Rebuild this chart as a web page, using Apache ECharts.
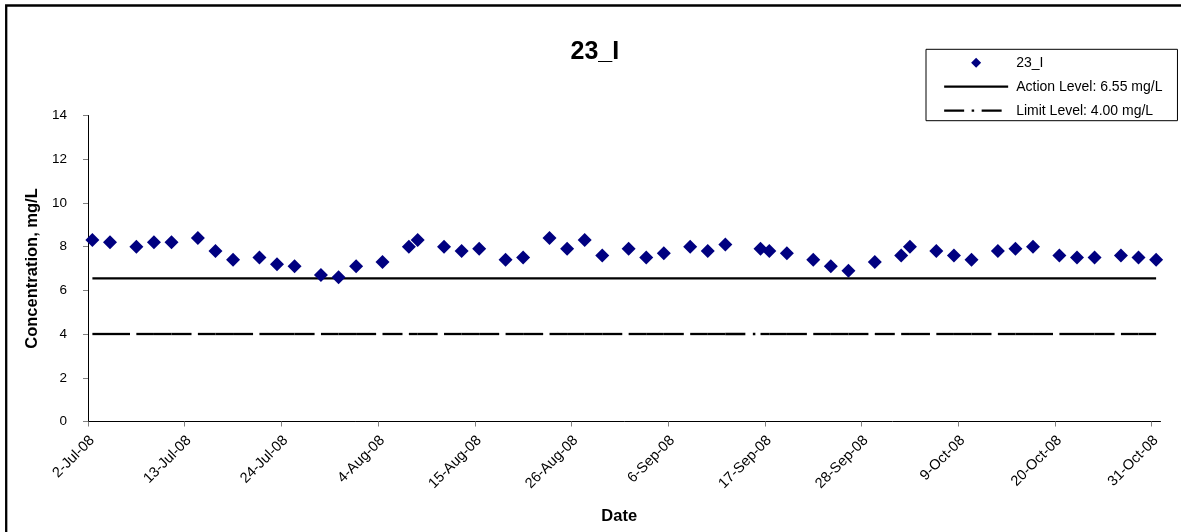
<!DOCTYPE html>
<html>
<head>
<meta charset="utf-8">
<script src="https://cdn.jsdelivr.net/npm/echarts@6/dist/echarts.min.js"></script>
<style>
html,body{margin:0;padding:0;background:#fff;}
#chart{width:1181px;height:532px;}
</style>
</head>
<body>
<div id="chart"></div>
<script>
// ---- data ----
const seriesName = '23_I';
const sampleDates = [
  '2008-07-02','2008-07-04','2008-07-07','2008-07-09','2008-07-11','2008-07-14','2008-07-16','2008-07-18',
  '2008-07-21','2008-07-23','2008-07-25','2008-07-28','2008-07-30','2008-08-01','2008-08-04','2008-08-07',
  '2008-08-08','2008-08-11','2008-08-13','2008-08-15','2008-08-18','2008-08-20','2008-08-23','2008-08-25',
  '2008-08-27','2008-08-29','2008-09-01','2008-09-03','2008-09-05','2008-09-08','2008-09-10','2008-09-12',
  '2008-09-16','2008-09-17','2008-09-19','2008-09-22','2008-09-24','2008-09-26','2008-09-29','2008-10-02',
  '2008-10-03','2008-10-06','2008-10-08','2008-10-10','2008-10-13','2008-10-15','2008-10-17','2008-10-20',
  '2008-10-22','2008-10-24','2008-10-27','2008-10-29','2008-10-31'
];
const concentrations = [
  8.3, 8.2, 8.0, 8.2, 8.2, 8.4, 7.8, 7.4,
  7.5, 7.2, 7.1, 6.7, 6.6, 7.1, 7.3, 8.0,
  8.3, 8.0, 7.8, 7.9, 7.4, 7.5, 8.4, 7.9,
  8.3, 7.6, 7.9, 7.5, 7.7, 8.0, 7.8, 8.1,
  7.9, 7.8, 7.7, 7.4, 7.1, 6.9, 7.3, 7.6,
  8.0, 7.8, 7.6, 7.4, 7.8, 7.9, 8.0, 7.6,
  7.5, 7.5, 7.6, 7.5, 7.4
];
const actionLevel = 6.55;
const limitLevel = 4.00;
const actionName = 'Action Level: 6.55 mg/L';
const limitName = 'Limit Level: 4.00 mg/L';
const axisStartDate = '2008-07-02';
const xTickLabels = ['2-Jul-08','13-Jul-08','24-Jul-08','4-Aug-08','15-Aug-08','26-Aug-08',
  '6-Sep-08','17-Sep-08','28-Sep-08','9-Oct-08','20-Oct-08','31-Oct-08'];
const xTickStepDays = 11;
const yTicks = [0, 2, 4, 6, 8, 10, 12, 14];

// ---- helpers ----
const DAY = 86400000;
function toUTC(s){ const p = s.split('-').map(Number); return Date.UTC(p[0], p[1]-1, p[2]); }
const t0 = toUTC(axisStartDate);
// Excel date axis: each day is a slot, markers sit at the slot centre
function dayPos(s){ return (toUTC(s) - t0) / DAY + 0.5; }
const xs = sampleDates.map(dayPos);
const tickValues = xTickLabels.map((_, i) => i * xTickStepDays);
const xMax = tickValues[tickValues.length - 1] + 1;

const scatterData = xs.map((x, i) => [x, concentrations[i]]);
const actionData = [[xs[0], actionLevel], [xs[xs.length-1], actionLevel]];
const limitData = xs.map(x => [x, limitLevel]);
const limitSegments = [];
for (let i = 0; i < xs.length - 1; i++) {
  limitSegments.push([{coord: [xs[i], limitLevel]}, {coord: [xs[i+1], limitLevel]}]);
}

const FONT = '"Liberation Sans", Arial, Helvetica, sans-serif';
const limitDash = [20, 7.5, 2.5, 7.5];
// legend diamond: 10px diamond centred in a 64x10 box (path bbox = icon box, so no stretching)
const legendDiamond = 'path://M0 0M64 0M64 10M0 10M32 0L37 5L32 10L27 5Z';

const chart = echarts.init(document.getElementById('chart'), null, {renderer: 'canvas'});
chart.setOption({
  animation: false,
  backgroundColor: '#ffffff',
  textStyle: {fontFamily: FONT},
  title: {
    text: seriesName,
    left: 570.5,
    top: 39.3,
    padding: 0,
    textStyle: {fontFamily: FONT, fontSize: 25, fontWeight: 'bold', color: '#000'}
  },
  legend: {
    orient: 'vertical',
    left: 926,
    top: 49.3,
    padding: [6.4, 15, 3, 17],
    itemWidth: 64,
    itemHeight: 10,
    itemGap: 10,
    borderColor: '#000',
    borderWidth: 1,
    selectedMode: false,
    symbolKeepAspect: true,
    textStyle: {fontFamily: FONT, fontSize: 14, color: '#000', padding: [0, 0, 0, 3]},
    data: [
      {name: seriesName, icon: legendDiamond, itemStyle: {color: '#000080'}},
      {name: actionName, itemStyle: {opacity: 0}, lineStyle: {color: '#000', width: 2.3, type: 'solid', opacity: 1}},
      {name: limitName, itemStyle: {opacity: 0}, lineStyle: {color: '#000', width: 2.3, type: limitDash, opacity: 1}}
    ]
  },
  grid: {left: 88, right: 20.5, top: 115.5, bottom: 110.5, containLabel: false},
  xAxis: {
    type: 'value',
    min: 0,
    max: xMax,
    interval: xTickStepDays,
    splitLine: {show: false},
    axisLine: {show: true, onZero: false, lineStyle: {color: '#000', width: 1}},
    axisTick: {show: true, length: 5, customValues: tickValues, lineStyle: {color: '#808080'}},
    axisLabel: {
      customValues: tickValues,
      rotate: 45,
      margin: 21,
      padding: [0, -6, 0, 0],
      fontFamily: FONT,
      fontSize: 14.5,
      color: '#000',
      formatter: v => xTickLabels[Math.round(v / xTickStepDays)] || ''
    },
    name: 'Date',
    nameLocation: 'middle',
    nameGap: 86,
    nameTextStyle: {fontFamily: FONT, fontSize: 16.5, fontWeight: 'bold', color: '#000', padding: [0, 10, 0, 0]}
  },
  yAxis: {
    type: 'value',
    min: yTicks[0],
    max: yTicks[yTicks.length - 1],
    interval: yTicks[1] - yTicks[0],
    splitLine: {show: false},
    axisLine: {show: true, lineStyle: {color: '#000', width: 1}},
    axisTick: {show: true, length: 5, lineStyle: {color: '#808080'}},
    axisLabel: {margin: 21, fontFamily: FONT, fontSize: 13.5, color: '#000'},
    name: 'Concentration, mg/L',
    nameLocation: 'middle',
    nameRotate: 90,
    nameGap: 44,
    nameTextStyle: {fontFamily: FONT, fontSize: 16.5, fontWeight: 'bold', color: '#000'}
  },
  graphic: [{
    type: 'rect',
    silent: true,
    shape: {x: 6.2, y: 5.5, width: 1400, height: 800},
    style: {fill: null, stroke: '#000', lineWidth: 2.3},
    z: 100
  }],
  series: [
    {
      name: actionName,
      type: 'line',
      data: actionData,
      symbol: 'none',
      silent: true,
      lineStyle: {color: '#000', width: 2.3, type: 'solid'},
      z: 2
    },
    {
      name: limitName,
      type: 'line',
      data: limitData,
      symbol: 'none',
      silent: true,
      lineStyle: {color: '#000', width: 2.3, opacity: 0},
      markLine: {
        silent: true,
        symbol: ['none', 'none'],
        label: {show: false},
        emphasis: {disabled: true},
        lineStyle: {color: '#000', width: 2.3, type: limitDash, opacity: 1},
        data: limitSegments
      },
      z: 2
    },
    {
      name: seriesName,
      type: 'scatter',
      data: scatterData,
      symbol: 'diamond',
      symbolSize: 14,
      itemStyle: {color: '#000080', opacity: 1},
      z: 5
    }
  ]
});
</script>
</body>
</html>
